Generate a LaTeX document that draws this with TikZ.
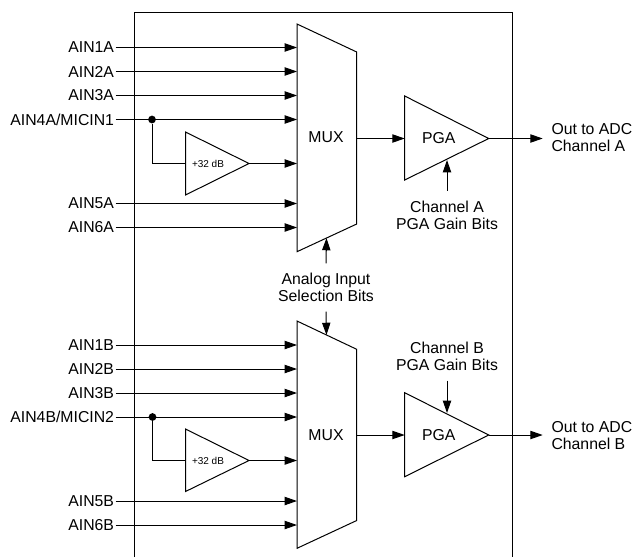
\documentclass[tikz,border=0pt]{standalone}
\usepackage{fontspec}
\setmainfont{Liberation Sans}
\usetikzlibrary{arrows.meta}

\tikzset{every picture/.style={line width=0.75pt}}
\tikzset{
	lbl/.style={inner sep=0.75pt,align=center,font=\fontsize{11.85}{12.75}\selectfont},
	pin/.style={lbl,anchor=east},
	bits/.style={lbl,inner ysep=7pt},
	gain/.style={inner sep=0.75pt,font=\fontsize{7.5}{9}\selectfont},
	wire/.style={-{Triangle[length=9.2pt,width=6.2pt]}},
	dot/.style={circle,fill=black,inner sep=0pt,minimum size=5.8pt}
}

\begin{document}
\begin{tikzpicture}[x=0.75pt,y=0.75pt,yscale=-1,xscale=1]
	\useasboundingbox (0,0) rectangle (634,557);
	
	%Chip outline, open at the bottom
	\draw (134.5,557) -- (134.5,12) -- (512.7,12) -- (512.7,557);
	
	%Shape: MUX A
	\coordinate (muxain1) at (297,47.5);
	\coordinate (muxain2) at (297,71.5);
	\coordinate (muxain3) at (297,95.5);
	\coordinate (muxain4) at (297,119.5);
	\coordinate (muxaamp) at (297,163.5);
	\coordinate (muxain5) at (297,203.5);
	\coordinate (muxain6) at (297,227.5);
	\coordinate (muxaout) at (356.7,138.5);
	\coordinate (muxasel) at (326.5,238);
	\draw (297,24) -- (356.7,52) -- (356.7,224) -- (297,251.7) -- cycle;
	\node (muxa) at (326,137.5) [lbl] {MUX};
	
	%Shape: MUX B
	\coordinate (muxbin1) at (297,345);
	\coordinate (muxbin2) at (297,369);
	\coordinate (muxbin3) at (297,393);
	\coordinate (muxbin4) at (297,417);
	\coordinate (muxbamp) at (297,460.5);
	\coordinate (muxbin5) at (297,501);
	\coordinate (muxbin6) at (297,525);
	\coordinate (muxbout) at (356.7,435);
	\coordinate (muxbsel) at (326.5,335);
	\draw (297,321) -- (356.7,349.3) -- (356.7,520.5) -- (297,548.3) -- cycle;
	\node (muxb) at (326,435) [lbl] {MUX};
	
	%Shape: +32 dB amplifiers
	\coordinate (ampain) at (185.5,163.5);
	\coordinate (ampaout) at (249,163.5);
	\draw (ampain |- 0,132) -- (ampaout) -- (ampain |- 0,195) -- cycle;
	\node (ampa) at (208,163.5) [gain] {+32 dB};
	\coordinate (ampbin) at (185.5,460.5);
	\coordinate (ampbout) at (249,460.5);
	\draw (ampbin |- 0,429) -- (ampbout) -- (ampbin |- 0,491.5) -- cycle;
	\node (ampb) at (208,460.5) [gain] {+32 dB};
	
	%Shape: PGAs
	\coordinate (pgaain) at (404.7,138.5);
	\coordinate (pgaaout) at (488.7,138.5);
	\coordinate (pgaasel) at (447,160);
	\draw (pgaain |- 0,96) -- (pgaaout) -- (pgaain |- 0,180) -- cycle;
	\node (pgaa) at (438.7,138) [lbl] {PGA};
	\coordinate (pgabin) at (404.7,435);
	\coordinate (pgabout) at (488.7,435);
	\coordinate (pgabsel) at (447,413);
	\draw (pgabin |- 0,392.7) -- (pgabout) -- (pgabin |- 0,476.7) -- cycle;
	\node (pgab) at (438.7,435) [lbl] {PGA};
	
	% Text Node
	\node (ain1a) at (115.5,47.5) [pin] {AIN1A};
	\node (ain2a) at (115.5,71.5) [pin] {AIN2A};
	\node (ain3a) at (115.5,95.5) [pin] {AIN3A};
	\node (ain4a) at (115.5,119.5) [pin] {AIN4A/MICIN1};
	\node (ain5a) at (115.5,203.5) [pin] {AIN5A};
	\node (ain6a) at (115.5,227.5) [pin] {AIN6A};
	\node (ain1b) at (115.5,345) [pin] {AIN1B};
	\node (ain2b) at (115.5,369) [pin] {AIN2B};
	\node (ain3b) at (115.5,393) [pin] {AIN3B};
	\node (ain4b) at (115.5,417) [pin] {AIN4B/MICIN2};
	\node (ain5b) at (115.5,501) [pin] {AIN5B};
	\node (ain6b) at (115.5,525) [pin] {AIN6B};
	% Text Node
	\node (outa) at (550,138) [lbl,anchor=west,align=left] {Out to ADC\\Channel A};
	\node (outb) at (550,435.3) [lbl,anchor=west,align=left] {Out to ADC\\Channel B};
	\coordinate (outatip) at (542.7,138.5);
	\coordinate (outbtip) at (542.7,435);
	% Text Node
	\node (gaina) at (447,215) [bits] {Channel A\\PGA Gain Bits};
	\node (gainb) at (447,356.5) [bits] {Channel B\\PGA Gain Bits};
	\node (analog) at (326,287.5) [bits] {Analog Input\\Selection Bits};
	
	%Straight Lines: inputs of MUX A
	\draw [wire] (ain1a.east) -- (muxain1);
	\draw [wire] (ain2a.east) -- (muxain2);
	\draw [wire] (ain3a.east) -- (muxain3);
	\draw [wire] (ain4a.east) -- (muxain4);
	\draw [wire] (ain5a.east) -- (muxain5);
	\draw [wire] (ain6a.east) -- (muxain6);
	\node (juna) at (152,119.5) [dot] {};
	\draw (juna) |- (ampain);
	\draw [wire] (ampaout) -- (muxaamp);
	%Straight Lines: inputs of MUX B
	\draw [wire] (ain1b.east) -- (muxbin1);
	\draw [wire] (ain2b.east) -- (muxbin2);
	\draw [wire] (ain3b.east) -- (muxbin3);
	\draw [wire] (ain4b.east) -- (muxbin4);
	\draw [wire] (ain5b.east) -- (muxbin5);
	\draw [wire] (ain6b.east) -- (muxbin6);
	\node (junb) at (152.5,417) [dot] {};
	\draw (junb) |- (ampbin);
	\draw [wire] (ampbout) -- (muxbamp);
	%Straight Lines: outputs and gain bits
	\draw [wire] (muxaout) -- (pgaain);
	\draw [wire] (muxbout) -- (pgabin);
	\draw [wire] (pgaaout) -- (outatip);
	\draw [wire] (pgabout) -- (outbtip);
	\draw [wire] (gaina.north) -- (pgaasel);
	\draw [wire] (gainb.south) -- (pgabsel);
	\draw [wire] (analog.north) -- (muxasel);
	\draw [wire] (analog.south) -- (muxbsel);
	
\end{tikzpicture}
\end{document}
